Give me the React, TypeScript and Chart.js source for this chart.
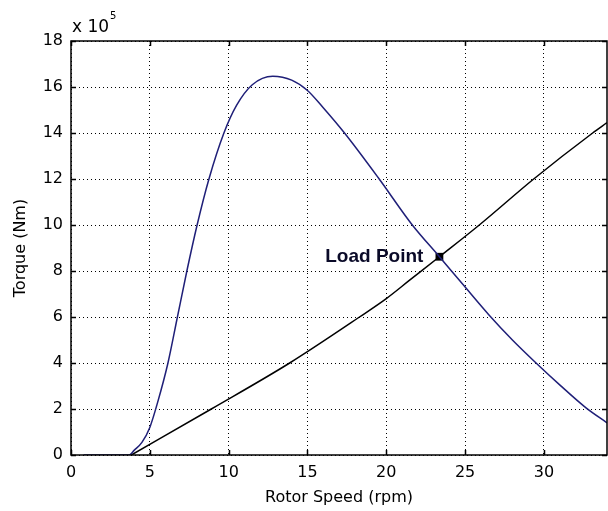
import { useEffect, useRef } from "react";
import { Chart, registerables } from "chart.js";
Chart.register(...registerables);

// Motor torque curve (x 10^5 Nm) vs rotor speed (rpm)
const motorSpeed = [0.8, 3.7, 4.0, 4.5, 5.0, 5.5, 6.15, 6.75, 7.35, 8.0, 8.75, 9.7, 10.5, 11.5, 12.8, 14, 15, 16, 17.35, 19.55, 21.65, 23.37, 25, 26.5, 28, 29.5, 31, 32.67, 34];
const motorTorque = [0, 0, 0.2, 0.55, 1.2, 2.3, 4, 6, 8, 10, 12, 14, 15.2, 16.1, 16.47, 16.3, 15.85, 15.1, 14, 12, 10, 8.62, 7.3, 6.1, 5, 4, 3.05, 2.05, 1.4];

// Load torque curve
const loadSpeed = [3.83, 8.9, 13.87, 18.3, 20, 21.48, 23.37, 25.9, 29.35, 33.09, 34];
const loadTorque = [0, 2, 4, 6, 6.8, 7.6, 8.62, 10, 12, 14, 14.45];

// Operating (load) point
const loadPointSpeed = [23.37];
const loadPointTorque = [8.62];
const loadPointLabel = "Load Point";

const xTicks = [0, 5, 10, 15, 20, 25, 30];
const yTicks = [0, 2, 4, 6, 8, 10, 12, 14, 16, 18];
const xTitle = "Rotor Speed (rpm)";
const yTitle = "Torque (Nm)";

const tickFont = { family: "'DejaVu Sans', sans-serif", size: 16 };

const framePlugin = {
  id: "frame",
  afterDraw(chart: any) {
    const { ctx, chartArea } = chart;
    const { left, right, top, bottom } = chartArea;
    const xs = chart.scales.x;
    const ys = chart.scales.y;
    ctx.save();
    ctx.strokeStyle = "#000";
    ctx.lineWidth = 1.5;
    ctx.setLineDash([]);
    ctx.strokeRect(left, top, right - left, bottom - top);
    const tl = 5;
    ctx.beginPath();
    xTicks.forEach((v) => {
      const px = Math.round(xs.getPixelForValue(v)) + 0.5;
      ctx.moveTo(px, bottom);
      ctx.lineTo(px, bottom - tl);
      ctx.moveTo(px, top);
      ctx.lineTo(px, top + tl);
    });
    yTicks.forEach((v) => {
      const py = Math.round(ys.getPixelForValue(v)) + 0.5;
      ctx.moveTo(left, py);
      ctx.lineTo(left + tl, py);
      ctx.moveTo(right, py);
      ctx.lineTo(right - tl, py);
    });
    ctx.stroke();

    // exponent label
    ctx.fillStyle = "#000";
    ctx.textBaseline = "alphabetic";
    ctx.textAlign = "left";
    ctx.font = "17px 'DejaVu Sans', sans-serif";
    const base = "x 10";
    ctx.fillText(base, left + 1, 32);
    const w = ctx.measureText(base).width;
    ctx.font = "10px 'DejaVu Sans', sans-serif";
    ctx.fillText("5", left + 1 + w + 1, 19);

    // load point label
    const lx = xs.getPixelForValue(loadPointSpeed[0]);
    const ly = ys.getPixelForValue(loadPointTorque[0]);
    ctx.font = "bold 19px 'Liberation Sans', Arial, sans-serif";
    ctx.fillStyle = "#0a0a28";
    ctx.textAlign = "right";
    ctx.textBaseline = "middle";
    ctx.fillText(loadPointLabel, lx - 16, ly);
    ctx.restore();
  },
};

export default function App() {
  const ref = useRef<HTMLCanvasElement | null>(null);
  useEffect(() => {
    document.body.style.margin = "0";
    if (!ref.current) return;
    const chart = new Chart(ref.current, {
      type: "line",
      data: {
        datasets: [
          {
            label: "Motor",
            data: motorSpeed.map((x, i) => ({ x, y: motorTorque[i] })),
            borderColor: "#1f1f78",
            borderWidth: 1.5,
            pointRadius: 0,
            cubicInterpolationMode: "monotone",
          },
          {
            label: "Load",
            data: loadSpeed.map((x, i) => ({ x, y: loadTorque[i] })),
            borderColor: "#000",
            borderWidth: 1.5,
            pointRadius: 0,
            cubicInterpolationMode: "monotone",
          },
          {
            label: "Load Point",
            data: loadPointSpeed.map((x, i) => ({ x, y: loadPointTorque[i] })),
            showLine: false,
            pointStyle: "rect",
            pointRadius: 5.5,
            backgroundColor: "#000",
            borderColor: "#000",
            borderWidth: 0,
          },
        ],
      },
      options: {
        animation: false,
        responsive: false,
        devicePixelRatio: 1,
        layout: { autoPadding: false, padding: { top: 41, right: 1, bottom: 0, left: 0 } },
        plugins: { legend: { display: false }, tooltip: { enabled: false } },
        scales: {
          x: {
            type: "linear",
            min: 0,
            max: 34,
            afterBuildTicks: (s: any) => {
              s.ticks = xTicks.map((v) => ({ value: v }));
            },
            afterFit: (s: any) => {
              s.height = 56;
              s.paddingLeft = 0;
              s.paddingRight = 0;
            },
            ticks: { font: tickFont, color: "#000", padding: 8, maxRotation: 0, autoSkip: false },
            grid: { color: "#000", lineWidth: 1, drawTicks: false },
            border: { display: false, dash: [1, 3] },
            title: {
              display: true,
              text: xTitle,
              color: "#000",
              font: tickFont,
              padding: { top: 0, bottom: 4 },
            },
          },
          y: {
            type: "linear",
            min: 0,
            max: 18,
            afterBuildTicks: (s: any) => {
              s.ticks = yTicks.map((v) => ({ value: v }));
            },
            afterFit: (s: any) => {
              s.width = 71;
              s.paddingTop = 0;
              s.paddingBottom = 0;
            },
            ticks: { font: tickFont, color: "#000", padding: 8, autoSkip: false },
            grid: { color: "#000", lineWidth: 1, drawTicks: false },
            border: { display: false, dash: [1, 3] },
            title: {
              display: true,
              text: yTitle,
              color: "#000",
              font: tickFont,
              padding: { top: 11, bottom: 0 },
            },
          },
        },
      },
      plugins: [framePlugin],
    });
    return () => chart.destroy();
  }, []);
  return (
    <div style={{ position: "fixed", left: 0, top: 0, width: 608, height: 511, background: "#fff" }}>
      <canvas ref={ref} width={608} height={511} />
    </div>
  );
}
